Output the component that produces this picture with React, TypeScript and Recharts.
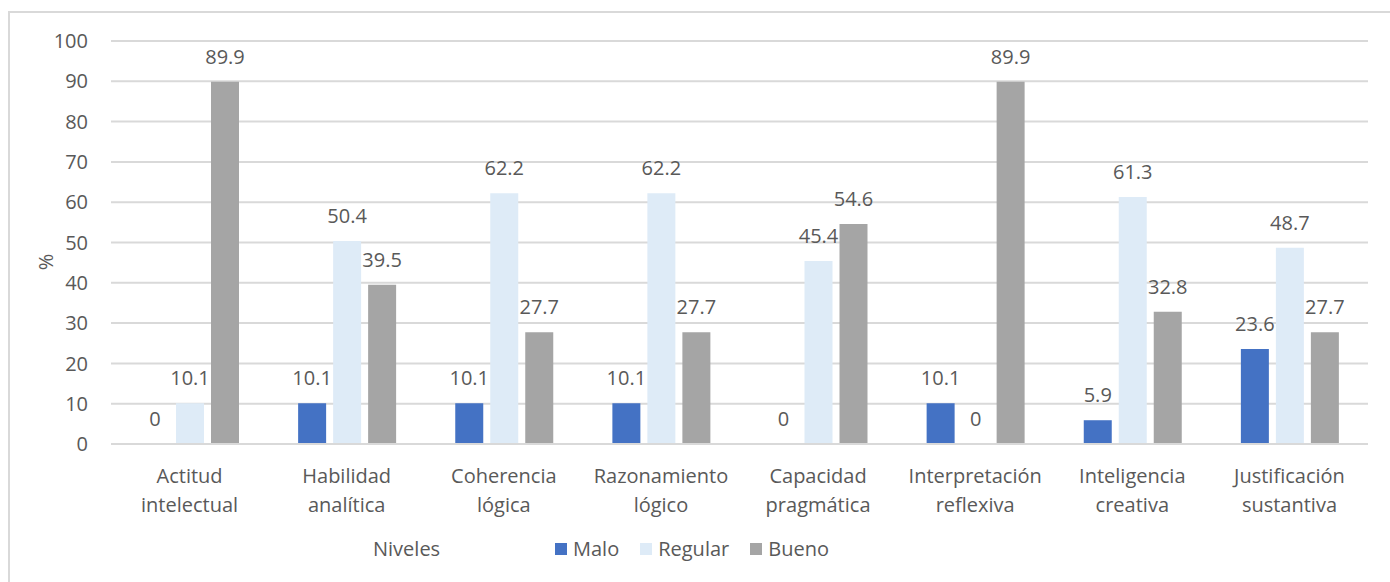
import React from "react";
import { Bar, BarChart, CartesianGrid, LabelList, XAxis, YAxis } from "recharts";

const categories = [
  ["Actitud", "intelectual"],
  ["Habilidad", "analítica"],
  ["Coherencia", "lógica"],
  ["Razonamiento", "lógico"],
  ["Capacidad", "pragmática"],
  ["Interpretación", "reflexiva"],
  ["Inteligencia", "creativa"],
  ["Justificación", "sustantiva"],
];

const malo = [0, 10.1, 10.1, 10.1, 0, 10.1, 5.9, 23.6];
const regular = [10.1, 50.4, 62.2, 62.2, 45.4, 0, 61.3, 48.7];
const bueno = [89.9, 39.5, 27.7, 27.7, 54.6, 89.9, 32.8, 27.7];

const yTicks = [0, 10, 20, 30, 40, 50, 60, 70, 80, 90, 100];

const series = [
  { key: "malo", name: "Malo", color: "#4472C4" },
  { key: "regular", name: "Regular", color: "#DEEBF7" },
  { key: "bueno", name: "Bueno", color: "#A5A5A5" },
];

const data = categories.map((c, i) => ({
  name: c.join("\n"),
  malo: malo[i],
  regular: regular[i],
  bueno: bueno[i],
}));

const FONT = "'Open Sans', sans-serif";
const TEXT = "#595959";
const FS = 20;

function CategoryTick({ x, y, payload }: any) {
  const lines = String(payload.value).split("\n");
  return (
    <text x={x} y={y} textAnchor="middle" fill={TEXT} fontSize={FS} fontFamily={FONT}>
      {lines.map((l, i) => (
        <tspan key={i} x={x} dy={i === 0 ? 31 : 29}>
          {l}
        </tspan>
      ))}
    </text>
  );
}

function PercentLabel() {
  return (
    <text
      x={45}
      y={262}
      transform="rotate(-90, 45, 262)"
      textAnchor="middle"
      dominantBaseline="central"
      fill={TEXT}
      fontSize={FS}
      fontFamily={FONT}
    >
      %
    </text>
  );
}

function ValueLabel(props: any) {
  const { x, y, width, value } = props;
  if (value == null) return null;
  return (
    <text x={x + width / 2} y={y - 18} textAnchor="middle" fill={TEXT} fontSize={FS} fontFamily={FONT}>
      {value}
    </text>
  );
}

export default function App() {
  return (
    <div
      style={{
        position: "absolute",
        left: 0,
        top: 0,
        width: 1390,
        height: 582,
        background: "#fff",
        overflow: "hidden",
        fontFamily: FONT,
      }}
    >
      <div
        style={{
          position: "absolute",
          left: 8,
          top: 11,
          width: 1400,
          height: 600,
          borderTop: "2px solid #d9d9d9",
          borderLeft: "2px solid #d9d9d9",
        }}
      />
      <div style={{ position: "absolute", left: 0, top: 0 }}>
        <BarChart
          width={1390}
          height={582}
          data={data}
          margin={{ top: 41, right: 22, bottom: 58, left: 0 }}
          barCategoryGap={30}
          barGap={7}
        >
          <CartesianGrid vertical={false} stroke="#d9d9d9" strokeWidth={2} />
          <YAxis
            width={111}
            domain={[0, 100]}
            ticks={yTicks}
            interval={0}
            axisLine={false}
            tickLine={false}
            tickMargin={17}
            tick={{ fill: TEXT, fontSize: FS, fontFamily: FONT }}
            label={<PercentLabel />}
          />
          <XAxis
            dataKey="name"
            height={80}
            interval={0}
            axisLine={{ stroke: "#d9d9d9", strokeWidth: 2 }}
            tickLine={false}
            tick={<CategoryTick />}
          />
          {series.map((s) => (
            <Bar
              key={s.key}
              dataKey={s.key}
              name={s.name}
              fill={s.color}
              isAnimationActive={false}
              minPointSize={(v: number) => (v === 0 ? 0.01 : 0)}
            >
              <LabelList dataKey={s.key} content={<ValueLabel />} />
            </Bar>
          ))}
        </BarChart>
      </div>
      <div
        style={{
          position: "absolute",
          left: 373,
          top: 535,
          fontSize: FS,
          color: TEXT,
          lineHeight: "28px",
        }}
      >
        Niveles
      </div>
      <div
        style={{
          position: "absolute",
          left: 555,
          top: 535,
          display: "flex",
          alignItems: "center",
          fontSize: FS,
          color: TEXT,
          lineHeight: "28px",
        }}
      >
        {series.map((s) => (
          <div key={s.key} style={{ display: "flex", alignItems: "center", marginRight: 21 }}>
            <span style={{ width: 12, height: 12, background: s.color, marginRight: 6, display: "inline-block" }} />
            <span>{s.name}</span>
          </div>
        ))}
      </div>
    </div>
  );
}
